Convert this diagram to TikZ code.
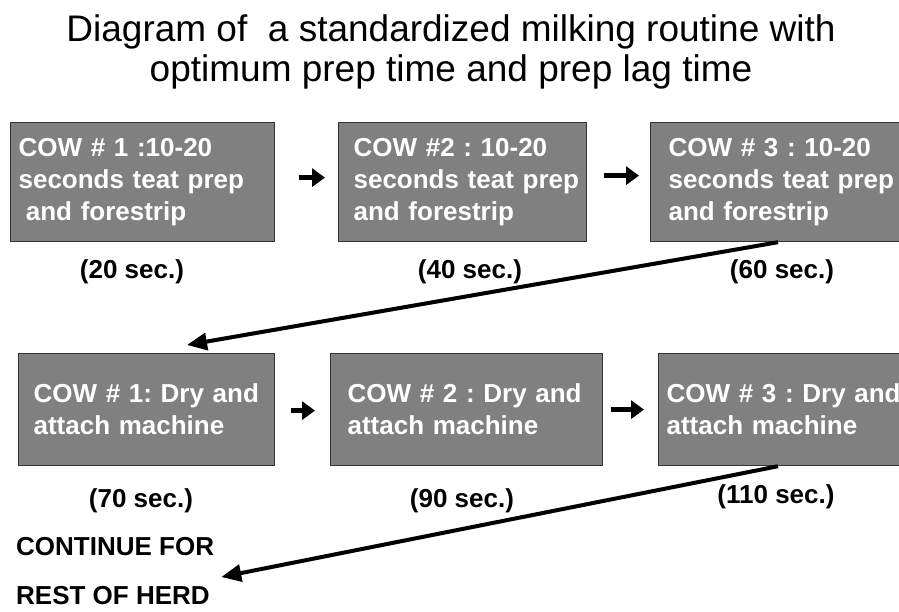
\documentclass[tikz,border=0pt]{standalone}
\usepackage{fontspec}
\setmainfont{Liberation Sans}
\usetikzlibrary{arrows.meta,calc}
\definecolor{boxgray}{HTML}{808080}
\definecolor{boxedge}{HTML}{333333}
\frenchspacing
\begin{document}
\begin{tikzpicture}[x=1pt,y=-1pt,
  cowbox/.style={draw=boxedge,line width=1.2pt,fill=boxgray,text=white,
    anchor=north west,align=left,inner ysep=0pt,
    font=\bfseries\fontsize{26}{32}\selectfont\frenchspacing},
  timelabel/.style={anchor=base,inner sep=0pt,font=\bfseries\fontsize{26}{31}\selectfont},
  smallarrow/.style={line width=5.5pt,-{Triangle[length=13pt,width=18pt]}},
  longarrow/.style={line width=4pt,-{Triangle[length=20pt,width=17pt]}}]
\useasboundingbox (0,0) rectangle (899,611);
% title
\node[align=center,inner sep=0pt,font=\fontsize{37}{40}\selectfont] (title) at (451,52)
  {Diagram of \ a standardized milking routine with\\optimum prep time and prep lag time};
% row 1
\node[cowbox,inner xsep=8pt,text width=248pt,minimum height=119pt] (b1) at (10,122)
  {\mbox{COW \# 1 :10-20}\\\mbox{seconds teat prep}\\\mbox{\hspace*{0.28em}and forestrip}};
\node[cowbox,inner xsep=15pt,text width=218pt,minimum height=119pt] (b2) at (338,122)
  {\mbox{COW \#2 : 10-20}\\\mbox{seconds teat prep}\\\mbox{and forestrip}};
\node[cowbox,inner xsep=18pt,text width=234pt,minimum height=119pt] (b3) at (650,122)
  {\mbox{COW \# 3 : 10-20}\\\mbox{seconds teat prep}\\\mbox{and forestrip}};
% row 2
\node[cowbox,inner xsep=15pt,text width=226pt,minimum height=112pt] (b4) at (18,353)
  {\mbox{COW \# 1: Dry and}\\\mbox{attach machine}};
\node[cowbox,inner xsep=17pt,text width=238pt,minimum height=112pt] (b5) at (330,353)
  {\mbox{COW \# 2 : Dry and}\\\mbox{attach machine}};
\node[cowbox,inner xsep=8pt,text width=246pt,minimum height=112pt] (b6) at (658,353)
  {\mbox{COW \# 3 : Dry and}\\\mbox{attach machine}};
% time labels
\node[timelabel] (l1) at (132,278) {(20 sec.)};
\node[timelabel] (l2) at (470,278) {(40 sec.)};
\node[timelabel] (l3) at (782,278) {(60 sec.)};
\node[timelabel] (l4) at (141,507) {(70 sec.)};
\node[timelabel] (l5) at (462,507) {(90 sec.)};
\node[timelabel] (l6) at (776,503) {(110 sec.)};
% continue
\node[anchor=west,align=left,inner sep=0pt,font=\bfseries\fontsize{26}{49}\selectfont] (cont) at (16,571)
  {CONTINUE FOR\\REST OF HERD};
% small arrows
\draw[smallarrow] ($(b1.east)+(24,-4.5)$) -- ($(b2.west)+(-13,-4.5)$);
\draw[smallarrow] ($(b2.east)+(17,-6.5)$) -- ($(b3.west)+(-11,-6.5)$);
\draw[smallarrow] ($(b4.east)+(16,1)$) -- ($(b5.west)+(-15,1)$);
\draw[smallarrow] ($(b5.east)+(8,0)$) -- ($(b6.west)+(-14,0)$);
% long arrows
\coordinate (s1) at ($(b3.south west)+(128,0)$);
\coordinate (t1) at ($(b4.north west)+(169,-8)$);
\draw[longarrow] (s1) -- (t1);
\coordinate (s2) at ($(b6.south west)+(120,0)$);
\coordinate (t2) at ($(cont.east)+(7,6)$);
\draw[longarrow] (s2) -- (t2);
\end{tikzpicture}
\end{document}
